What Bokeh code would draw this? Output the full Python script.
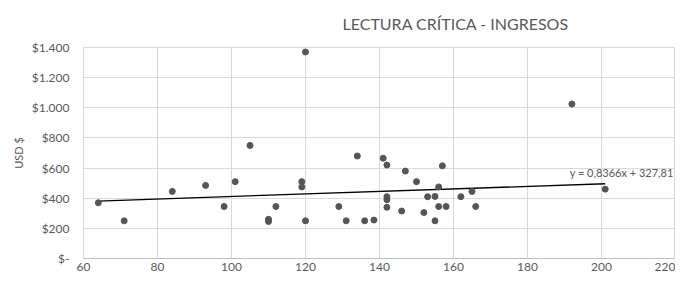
from bokeh.plotting import figure
from bokeh.models import FixedTicker, CustomJSTickFormatter, Range1d, Label
from bokeh.embed import file_html
from bokeh.resources import INLINE

# Puntaje de Lectura Crítica (x) vs ingresos en USD (y)
lectura = [64, 71, 84, 93, 98, 101, 105, 110, 110, 112, 119, 119, 120, 120,
           129, 131, 134, 136, 138.5, 141, 142, 142, 142, 142, 146, 147, 150,
           152, 153, 155, 155, 156, 156, 157, 158, 162, 165, 166, 192, 201]
ingresos = [370, 250, 445, 485, 345, 510, 750, 245, 260, 345, 510, 475, 250, 1370,
            345, 250, 680, 250, 255, 665, 620, 410, 390, 340, 315, 580, 510,
            305, 410, 412, 250, 475, 345, 615, 345, 410, 445, 345, 1025, 460]

# Línea de tendencia lineal
slope = 0.8366
intercept = 327.81
trend_label = "y = 0,8366x + 327,81"
title_text = "LECTURA CRÍTICA - INGRESOS"

x_ticks = [60, 80, 100, 120, 140, 160, 180, 200, 220]
y_ticks = [0, 200, 400, 600, 800, 1000, 1200, 1400]

FONT = "Lato"
GREY = "#595959"

p = figure(width=675, height=276, output_backend="svg",
           toolbar_location=None,
           x_range=Range1d(60, 220), y_range=Range1d(0, 1400),
           min_border_left=83, min_border_right=0,
           min_border_top=47, min_border_bottom=18)
p.background_fill_color = "white"
p.border_fill_color = "white"
p.outline_line_color = "#d9d9d9"
p.outline_line_width = 1

p.title.text = title_text
p.title.align = "left"
p.title.vertical_align = "top"
p.title.offset = 259
p.title.standoff = 25
p.title.text_font = FONT
p.title.text_font_style = "normal"
p.title.text_font_size = "16px"
p.title.text_color = GREY

# axes
p.xaxis.ticker = FixedTicker(ticks=x_ticks)
p.yaxis.ticker = FixedTicker(ticks=y_ticks)
p.yaxis.formatter = CustomJSTickFormatter(code="""
    if (tick == 0) { return '$-'; }
    var s = Math.round(tick).toString();
    s = s.replace(/\\B(?=(\\d{3})+(?!\\d))/g, '.');
    return '$' + s;
""")
for ax in (p.xaxis[0], p.yaxis[0]):
    ax.major_tick_line_color = None
    ax.minor_tick_line_color = None
    ax.major_tick_out = 0
    ax.major_tick_in = 0
    ax.minor_tick_out = 0
    ax.minor_tick_in = 0
    ax.major_label_text_font = FONT
    ax.major_label_text_font_size = "12px"
    ax.major_label_text_color = GREY
p.xaxis.major_label_standoff = 4
p.yaxis.major_label_standoff = 14
p.yaxis.axis_line_color = None
p.xaxis.axis_line_color = "#bfbfbf"
p.yaxis.axis_label = "USD $"
p.yaxis.axis_label_text_font = FONT
p.yaxis.axis_label_text_font_size = "11px"
p.yaxis.axis_label_text_font_style = "normal"
p.yaxis.axis_label_text_color = GREY
p.yaxis.axis_label_standoff = 4

p.grid.grid_line_color = "#d9d9d9"
p.grid.grid_line_width = 1

# trend line
xs = [min(lectura), max(lectura)]
ys = [slope * v + intercept for v in xs]
p.line(xs, ys, line_color="black", line_width=1.3)

# points
p.scatter(lectura, ingresos, size=6, fill_color="#555555", line_color="#555555")

p.add_layout(Label(x=191.4, y=572, text=trend_label, text_font=FONT,
                   text_font_size="11px", text_color=GREY,
                   text_align="left", text_baseline="middle"))

open("out.html", "w").write(file_html(p, INLINE))
